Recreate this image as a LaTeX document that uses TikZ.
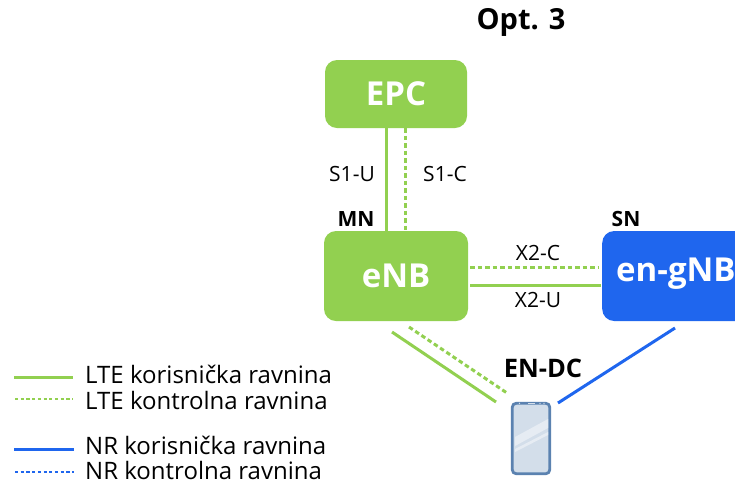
\documentclass[tikz,border=0pt]{standalone}
\usepackage{fontspec}
\setmainfont{Open Sans}
\definecolor{lte}{HTML}{92D050}
\definecolor{nr}{HTML}{1F66EE}
\definecolor{phoneedge}{HTML}{5B82B0}
\definecolor{phonefill}{HTML}{D3DEEA}
\definecolor{phoneglare}{HTML}{E6ECF3}
\tikzset{
  x=1pt,y=-1pt,
  box/.style={draw=none,rounded corners=12pt,text=white,font=\bfseries\fontsize{33}{33}\selectfont,inner sep=0pt},
  ltesolid/.style={draw=lte,line width=3pt},
  ltedash/.style={draw=lte,line width=3pt,dash pattern=on 4.5pt off 3pt},
  nrsolid/.style={draw=nr,line width=3pt},
  nrdash/.style={draw=nr,line width=3pt,dash pattern=on 4.5pt off 3pt},
  lab/.style={font=\fontsize{21}{21}\selectfont,inner sep=0pt,text=black},
  blab/.style={font=\bfseries\fontsize{21}{21}\selectfont,inner sep=0pt,text=black},
  leg/.style={font=\fontsize{24}{24}\selectfont,inner sep=0pt,anchor=base west,text=black},
}
\begin{document}
\begin{tikzpicture}
\useasboundingbox (0,0) rectangle (735,483);
\begin{scope}
\clip (0,0) rectangle (735,483);
\node[box,fill=lte,minimum width=142pt,minimum height=68pt] (epc) at (396,94) {EPC};
\node[box,fill=lte,minimum width=144pt,minimum height=90pt] (enb) at (396,276) {eNB};
\node[box,fill=nr,minimum width=160pt,minimum height=90pt,anchor=west] (gnb) at (602,276) {};
\node[font=\bfseries\fontsize{33}{33}\selectfont,text=white,inner sep=0pt,anchor=west] (gnbt) at (616,274) {en-gNB};
\end{scope}
\node[font=\bfseries\fontsize{29}{29}\selectfont,inner sep=0pt] (title) at (521,22) {Opt. 3};
\node[blab] (mn) at (356,219) {MN};
\node[blab] (sn) at (626,219) {SN};
\node[lab] (s1u) at (352,174) {S1-U};
\node[lab] (s1c) at (445,174) {S1-C};
\node[lab] (x2c) at (538,253) {X2-C};
\node[lab] (x2u) at (538,300) {X2-U};
\node[font=\bfseries\fontsize{25.5}{25.5}\selectfont,inner sep=0pt] (endc) at (543,368) {EN-DC};
% phone
\node[draw=phoneedge,fill=phonefill,line width=2.8pt,rounded corners=4pt,minimum width=37.5pt,minimum height=70.5pt,inner sep=0pt] (ue) at (531,438.5) {};
\fill[phoneglare] (515,437) -- (548,419) -- (548,428) -- (515,446) -- cycle;
\fill[phoneglare] (515,449) -- (548,432) -- (548,435) -- (515,452) -- cycle;
\fill[phonefill] (519.5,403.4) circle (0.7pt) (540,403.4) circle (0.7pt) (544,403.4) circle (0.7pt);
\fill[phonefill] (528,403) rectangle (535,404);
% connectors
\coordinate (a1) at (386,128); \coordinate (a2) at (386,231);
\coordinate (b1) at (405,128); \coordinate (b2) at (405,231);
\coordinate (c1) at (470,267); \coordinate (c2) at (598,267);
\coordinate (d1) at (470,285); \coordinate (d2) at (601,285);
\coordinate (e1) at (392,332); \coordinate (e2) at (496,402);
\coordinate (f1) at (409,327); \coordinate (f2) at (507,393);
\coordinate (g1) at (675,328); \coordinate (g2) at (558,403);
\draw[ltesolid] (epc.south -| a1) -- (enb.north -| a2);
\draw[ltedash] (epc.south -| b1) -- (enb.north -| b2);
\draw[ltedash] (c1) -- (c2);
\draw[ltesolid] (d1) -- (d2);
\draw[ltesolid] (e1) -- (e2);
\draw[ltedash] (f1) -- (f2);
\draw[nrsolid] (g1) -- (g2);
% legend
\coordinate (l1a) at (14,377); \coordinate (l1b) at (73,377);
\coordinate (l2a) at (15,399); \coordinate (l2b) at (73,399);
\coordinate (l3a) at (14,449); \coordinate (l3b) at (74,449);
\coordinate (l4a) at (15,472); \coordinate (l4b) at (74,472);
\draw[ltesolid] (l1a) -- (l1b);
\draw[ltedash,line width=2.4pt,dash pattern=on 3.2pt off 2.5pt] (l2a) -- (l2b);
\draw[nrsolid] (l3a) -- (l3b);
\draw[nrdash,line width=2.4pt,dash pattern=on 3.2pt off 2.5pt] (l4a) -- (l4b);
\node[leg] (t1) at (85,383) {LTE korisnička ravnina};
\node[leg] (t2) at (85,409) {LTE kontrolna ravnina};
\node[leg] (t3) at (85,454) {NR korisnička ravnina};
\node[leg] (t4) at (85,479) {NR kontrolna ravnina};
\end{tikzpicture}
\end{document}
